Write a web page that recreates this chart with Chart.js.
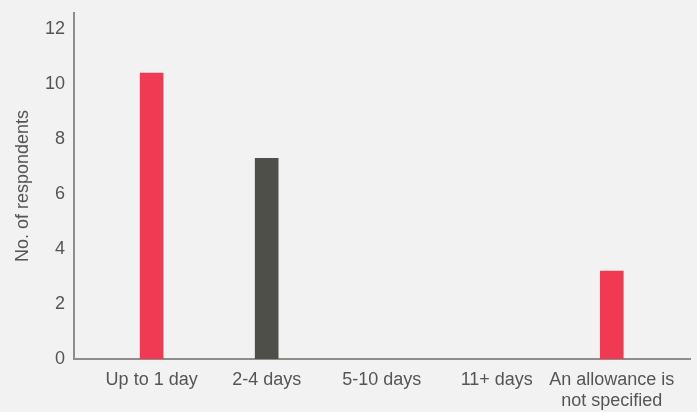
<!DOCTYPE html>
<html><head><meta charset="utf-8">
<script src="https://cdn.jsdelivr.net/npm/chart.js@4"></script>
<style>html,body{margin:0;padding:0;background:#f2f2f2;}#wrap{width:697px;height:412px;}</style>
</head><body><div id="wrap"><canvas id="c" width="697" height="412"></canvas></div>
<script>
const categories = ["Up to 1 day", "2-4 days", "5-10 days", "11+ days", ["An allowance is", "not specified"]];
const respondents = [10.4, 7.3, 0, 0, 3.2];
const barColors = ["#f03a53", "#4f4f4a", "#f03a53", "#f03a53", "#f03a53"];
const yTicks = [0, 2, 4, 6, 8, 10, 12];

const FONT = "'Liberation Sans Narrow', 'Liberation Sans', sans-serif";
const TXT = "#555555";

new Chart(document.getElementById('c'), {
  type: 'bar',
  data: {
    datasets: [{
      data: respondents.map((v, i) => ({x: i, y: v})),
      backgroundColor: ctx => (ctx.raw && ctx.raw.y === 0) ? 'rgba(0,0,0,0)' : barColors[ctx.dataIndex],
      barThickness: 23,
      borderWidth: 0
    }]
  },
  options: {
    responsive: false,
    animation: false,
    layout: {padding: {top: 13, right: 7, left: 0, bottom: 0}},
    plugins: {legend: {display: false}, tooltip: {enabled: false}},
    scales: {
      x: {
        type: 'linear',
        offset: false,
        z: 1,
        min: -0.675, max: 4.68,
        afterBuildTicks: s => { s.ticks = categories.map((c, i) => ({value: i})); },
        afterFit: s => { s.height = 53; },
        grid: {display: false, drawTicks: false},
        border: {color: '#8f8d8a', width: 2},
        ticks: {
          autoSkip: false, maxRotation: 0, padding: 10,
          color: TXT, font: {family: FONT, size: 18},
          callback: (v) => categories[v]
        }
      },
      y: {
        min: 0, max: 12.58,
        z: 1,
        afterBuildTicks: s => { s.ticks = yTicks.map(v => ({value: v})); },
        afterFit: s => { s.width = 74; s.paddingTop = 0; },
        grid: {display: false, drawTicks: false},
        border: {color: '#8f8d8a', width: 2},
        ticks: {padding: 9, color: TXT, font: {family: FONT, size: 18}},
        title: {display: true, text: 'No. of respondents', color: TXT, font: {family: FONT, size: 18}, padding: {top: 12, bottom: 0}}
      }
    }
  }
});
</script></body></html>
